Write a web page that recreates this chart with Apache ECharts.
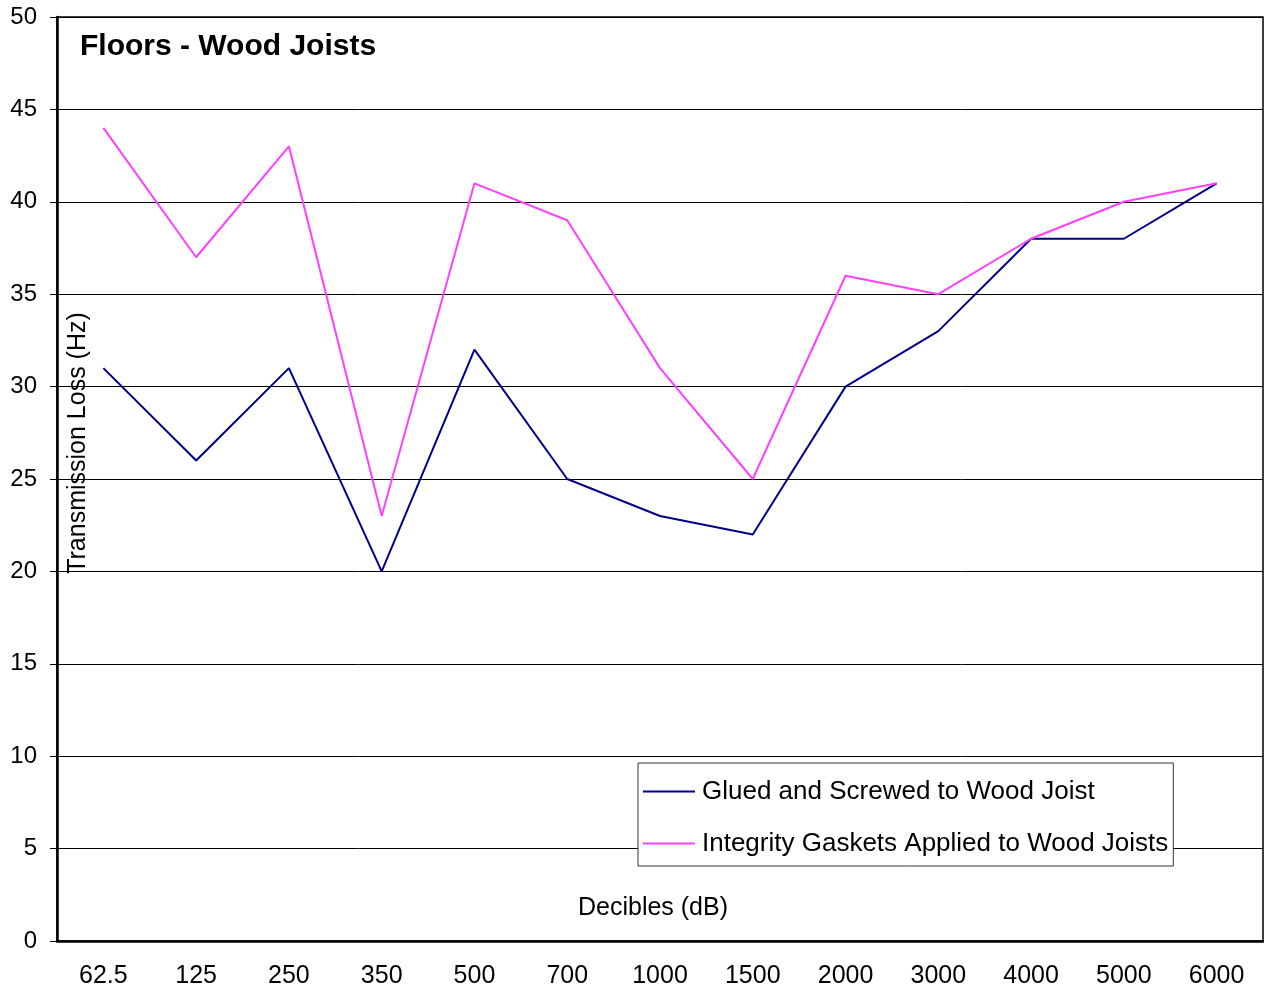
<!DOCTYPE html>
<html>
<head>
<meta charset="utf-8">
<title>Floors - Wood Joists</title>
<script src="https://cdn.jsdelivr.net/npm/echarts@6/dist/echarts.min.js"></script>
<style>
  html, body { margin: 0; padding: 0; background: #fff; }
  #gh { width: 1264px; height: 989px; }
</style>
</head>
<body>
<div id="gh"></div>
<script>
var dom = document.getElementById("gh");
var myChart = echarts.init(dom);

// data
var categories = ['62.5', '125', '250', '350', '500', '700', '1000', '1500', '2000', '3000', '4000', '5000', '6000'];
var gluedValues = [31, 26, 31, 20, 32, 25, 23, 22, 30, 33, 38, 38, 41];
var gasketValues = [44, 37, 43, 23, 41, 39, 31, 25, 36, 35, 38, 40, 41];
var seriesNames = ['Glued and Screwed to Wood Joist', 'Integrity Gaskets Applied to Wood Joists'];

var font = '"Liberation Sans", Arial, Helvetica, sans-serif';

var option = {
  animation: false,
  backgroundColor: '#fff',
  grid: {
    left: 57,
    right: 1,
    top: 17,
    bottom: 48,
    show: true,
    borderColor: '#000',
    borderWidth: 1.5,
    backgroundColor: 'transparent'
  },
  graphic: [
    {
      type: 'text',
      x: 80,
      y: 47,
      style: { text: 'Floors - Wood Joists', font: 'bold 30px ' + font, fill: '#000', verticalAlign: 'middle' }
    },
    {
      type: 'text',
      x: 78,
      y: 443,
      rotation: Math.PI / 2,
      style: {
        text: 'Transmission Loss (Hz)',
        font: '25px ' + font,
        fill: '#000',
        align: 'center',
        verticalAlign: 'middle'
      }
    },
    {
      type: 'text',
      x: 653,
      y: 908,
      style: {
        text: 'Decibles (dB)',
        font: '25px ' + font,
        fill: '#000',
        align: 'center',
        verticalAlign: 'middle'
      }
    }
  ],
  legend: {
    orient: 'vertical',
    left: 638,
    top: 763,
    padding: [14, 5, 8, 5],
    itemGap: 23,
    itemWidth: 52,
    itemHeight: 2,
    icon: 'rect',
    backgroundColor: '#fff',
    borderColor: '#333',
    borderWidth: 1,
    selectedMode: false,
    data: seriesNames,
    textStyle: { color: '#000', fontSize: 26, fontFamily: font, lineHeight: 29, padding: [0, 0, 0, 2] }
  },
  xAxis: [
    {
      type: 'category',
      data: categories,
      boundaryGap: true,
      axisLine: { lineStyle: { color: '#000', width: 2.5 } },
      axisTick: { alignWithLabel: true, length: 6, lineStyle: { color: '#000', width: 1 } },
      axisLabel: { color: '#000', fontSize: 25, fontFamily: font, margin: 23 },
      splitLine: { show: false }
    },
    {
      type: 'category',
      data: categories,
      position: 'bottom',
      boundaryGap: true,
      axisLine: { show: false },
      axisTick: { inside: true, length: 6, lineStyle: { color: '#000', width: 1 } },
      axisLabel: { show: false },
      splitLine: { show: false }
    }
  ],
  yAxis: {
    type: 'value',
    min: 0,
    max: 50,
    interval: 5,
    axisLine: { show: true, lineStyle: { color: '#000', width: 2.5 } },
    axisTick: { show: true, length: 7, lineStyle: { color: '#000', width: 1 } },
    axisLabel: { color: '#000', fontSize: 24, fontFamily: font, margin: 20 },
    splitLine: { lineStyle: { color: '#000', width: 1 } }
  },
  series: [
    {
      name: seriesNames[0],
      type: 'line',
      data: gluedValues,
      symbol: 'none',
      color: '#000088',
      lineStyle: { width: 2, color: '#000088' }
    },
    {
      name: seriesNames[1],
      type: 'line',
      data: gasketValues,
      symbol: 'none',
      color: '#ff40ff',
      lineStyle: { width: 2, color: '#ff40ff' }
    }
  ]
};

myChart.setOption(option);
</script>
</body>
</html>
